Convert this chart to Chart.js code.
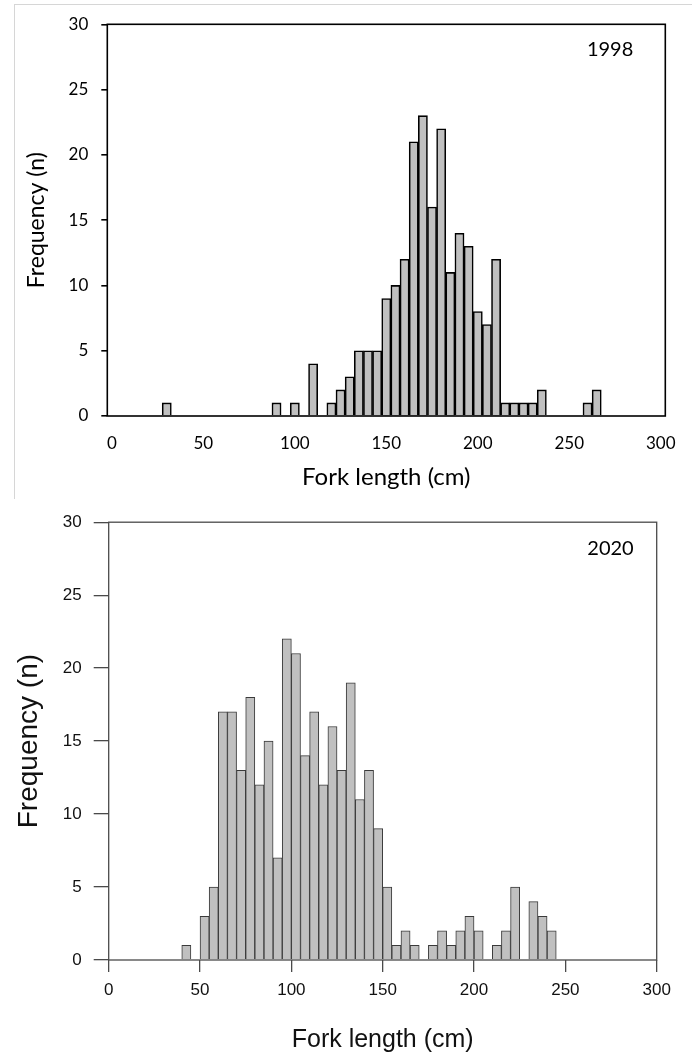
<!DOCTYPE html>
<html>
<head>
<meta charset="utf-8">
<script src="https://cdn.jsdelivr.net/npm/chart.js@4.4.1/dist/chart.umd.min.js"></script>
<style>
html,body{margin:0;padding:0;background:#fff;}
body{width:694px;height:1055px;position:relative;overflow:hidden;}
#frame{position:absolute;left:14px;top:4px;width:677px;height:494px;border-top:1px solid #d6d6d6;border-left:1px solid #d6d6d6;}
#w1{position:absolute;left:0;top:0;width:694px;height:500px;}
#w2{position:absolute;left:0;top:500px;width:694px;height:555px;}
</style>
</head>
<body>
<div id="frame"></div>
<div id="w1"><canvas id="c1"></canvas></div>
<div id="w2"><canvas id="c2"></canvas></div>
<script>
// ---- data ----
const xTickValues = [0, 50, 100, 150, 200, 250, 300];
const yTickValues = [0, 5, 10, 15, 20, 25, 30];
const xTitle = 'Fork length (cm)';
const yTitle = 'Frequency (n)';
const yearLabels = ['1998', '2020'];

// 1998: bars centred on the length value (5 cm classes)
const lengths1998 = [30, 90, 100, 110, 120, 125, 130, 135, 140, 145, 150, 155, 160, 165, 170, 175, 180, 185, 190, 195, 200, 205, 210, 215, 220, 225, 230, 235, 260, 265];
const counts1998  = [1, 1, 1, 4, 1, 2, 3, 5, 5, 5, 9, 10, 12, 21, 23, 16, 22, 11, 14, 13, 8, 7, 12, 1, 1, 1, 1, 2, 1, 2];

// 2020: 5 cm bins given by their lower edge
const binStart2020 = [40, 50, 55, 60, 65, 70, 75, 80, 85, 90, 95, 100, 105, 110, 115, 120, 125, 130, 135, 140, 145, 150, 155, 160, 165, 175, 180, 185, 190, 195, 200, 210, 215, 220, 230, 235, 240];
const counts2020   = [1, 3, 5, 17, 17, 13, 18, 12, 15, 7, 22, 21, 14, 17, 12, 16, 13, 19, 11, 13, 9, 5, 1, 2, 1, 1, 2, 1, 2, 3, 2, 1, 2, 5, 4, 3, 2];
const binWidth = 5;

const points1998 = lengths1998.map((x, i) => ({ x: x, y: counts1998[i] }));
const points2020 = binStart2020.map((s, i) => ({ x: s + binWidth / 2, y: counts2020[i] }));

// ---- plugins ----
const framePlugin = {
  id: 'frameBox',
  afterDraw(chart, args, opts) {
    const { ctx, chartArea: a } = chart;
    ctx.save();
    ctx.strokeStyle = opts.color;
    ctx.lineWidth = opts.width;
    ctx.strokeRect(a.left, a.top, a.right - a.left, a.bottom - a.top);
    ctx.restore();
  }
};
const yearPlugin = {
  id: 'yearLabel',
  afterDraw(chart, args, opts) {
    const { ctx, chartArea: a } = chart;
    ctx.save();
    ctx.font = opts.font;
    ctx.fillStyle = opts.color;
    ctx.textAlign = 'right';
    ctx.textBaseline = 'middle';
    ctx.fillText(opts.text, a.right - opts.dx, a.top + opts.dy);
    ctx.restore();
  }
};

function makeChart(id, o) {
  return new Chart(document.getElementById(id), {
    type: 'bar',
    data: {
      datasets: [{
        data: o.points,
        backgroundColor: '#c0c0c0',
        borderColor: o.barBorder,
        borderWidth: o.barBorderWidth,
        barPercentage: 1,
        categoryPercentage: 1,
        borderSkipped: 'start'
      }]
    },
    options: {
      responsive: true,
      maintainAspectRatio: false,
      animation: false,
      devicePixelRatio: 1,
      layout: { padding: { left: 0, top: o.padTop, right: o.padRight, bottom: 0 } },
      plugins: {
        legend: { display: false },
        tooltip: { enabled: false },
        frameBox: { color: o.axisColor, width: o.axisWidth },
        yearLabel: { text: o.year, font: o.yearFont, color: '#000', dx: o.yearDx, dy: o.yearDy }
      },
      scales: {
        x: {
          type: 'linear',
          min: o.xMin,
          max: o.xMax,
          offset: false,
          afterBuildTicks: s => { s.ticks = xTickValues.map(v => ({ value: v })); },
          afterFit: s => { s.height = o.xHeight; },
          grid: { display: true, offset: false, drawOnChartArea: false, drawTicks: o.xTickLen > 0, tickLength: o.xTickLen, color: o.axisColor, lineWidth: o.axisWidth },
          border: { display: false },
          ticks: { autoSkip: false, maxRotation: 0, padding: o.xLabelPad, font: { family: o.family, size: o.tickSize }, color: o.textColor },
          title: { display: true, text: xTitle, color: o.textColor, font: { family: o.family, size: o.xTitleSize, lineHeight: 1.2 }, padding: { top: 0, bottom: o.xTitlePad } }
        },
        y: {
          type: 'linear',
          min: 0,
          max: 30,
          afterBuildTicks: s => { s.ticks = yTickValues.map(v => ({ value: v })); },
          afterFit: s => { s.width = o.yWidth; },
          grid: { display: true, drawOnChartArea: false, drawTicks: true, tickLength: o.yTickLen, color: o.axisColor, lineWidth: o.axisWidth },
          border: { display: false },
          ticks: { padding: o.yLabelPad, font: { family: o.family, size: o.tickSize }, color: o.textColor },
          title: { display: true, text: yTitle, color: o.textColor, font: { family: o.family, size: o.yTitleSize, lineHeight: 1.2 }, padding: { top: o.yTitlePad, bottom: 0 } }
        }
      }
    },
    plugins: [framePlugin, yearPlugin]
  });
}

makeChart('c1', {
  points: points1998, barBorder: '#000', barBorderWidth: 1.6,
  padTop: 24.3, padRight: 28.7, xMin: -2.5, xMax: 302.5,
  xHeight: 84, yWidth: 107.3,
  xTickLen: 0, yTickLen: 6, xLabelPad: 17, yLabelPad: 13,
  axisColor: '#000', axisWidth: 1.6,
  family: 'Lato', tickSize: 17, xTitleSize: 24, yTitleSize: 23, textColor: '#000',
  xTitlePad: 8, yTitlePad: 23,
  year: yearLabels[0], yearFont: '20px Lato', yearDx: 32, yearDy: 25
});

makeChart('c2', {
  points: points2020, barBorder: '#3a3a3a', barBorderWidth: 1,
  padTop: 19.3, padRight: 37.3, xMin: 0, xMax: 300,
  xHeight: 95, yWidth: 108.7,
  xTickLen: 12, yTickLen: 15, xLabelPad: 8, yLabelPad: 12,
  axisColor: '#4a4a4a', axisWidth: 1.3,
  family: '"Liberation Sans", Arial, sans-serif', tickSize: 17, xTitleSize: 25, yTitleSize: 28, textColor: '#111',
  xTitlePad: 0, yTitlePad: 12,
  year: yearLabels[1], yearFont: '20px Lato', yearDx: 23, yearDy: 26
});
</script>
</body>
</html>
